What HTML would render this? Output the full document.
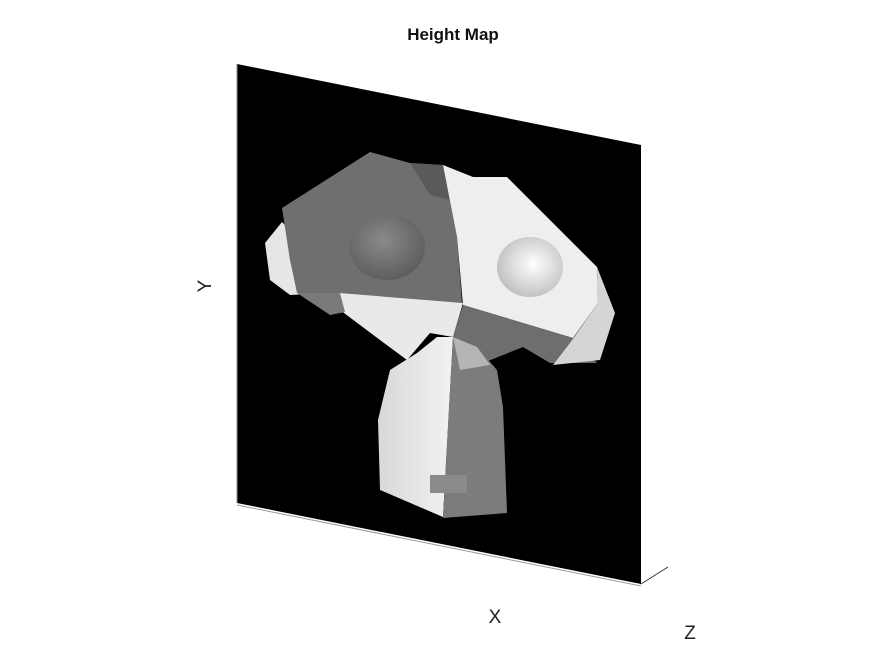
<!DOCTYPE html>
<html><head><meta charset="utf-8"><style>
html,body{margin:0;padding:0;background:#fff;width:875px;height:656px;overflow:hidden}
svg{display:block;font-family:"Liberation Sans",sans-serif}
</style></head><body>
<svg width="875" height="656" viewBox="0 0 875 656">
<defs>
<radialGradient id="eyeL" cx="0.45" cy="0.4" r="0.6"><stop offset="0" stop-color="#8a8a8a"/><stop offset="1" stop-color="#5e5e5e"/></radialGradient>
<radialGradient id="eyeR" cx="0.55" cy="0.45" r="0.6"><stop offset="0" stop-color="#ffffff"/><stop offset="1" stop-color="#bdbdbd"/></radialGradient>
<linearGradient id="bodyL" x1="0" x2="1"><stop offset="0" stop-color="#d8d8d8"/><stop offset="1" stop-color="#f2f2f2"/></linearGradient>
</defs>
<text x="453" y="40" text-anchor="middle" font-size="17" font-weight="bold" fill="#111">Height Map</text>
<polygon points="237,64 641,145 641,584 237,503" fill="#000"/>
<line x1="237" y1="64" x2="237" y2="503" stroke="#888" stroke-width="1"/>
<line x1="237" y1="505" x2="641" y2="586" stroke="#999" stroke-width="1"/>
<line x1="641" y1="584" x2="668" y2="567" stroke="#333" stroke-width="1"/>
<g>
<polygon points="265,243 282,222 300,240 330,293 290,295 270,280" fill="#e6e6e6"/>
<polygon points="282,208 370,152 410,163 443,165 457,237 462,303 340,293 297,293 290,260" fill="#6f6f6f"/>
<polygon points="410,163 443,165 450,200 430,195" fill="#5a5a5a"/>
<polygon points="443,165 473,177 507,177 597,267 598,303 573,338 463,305 457,237" fill="#eeeeee"/>
<polygon points="297,293 340,293 463,303 453,337 430,333 407,360 380,340 340,310" fill="#e9e9e9"/>
<polygon points="297,293 340,293 345,312 330,315" fill="#7a7a7a"/>
<polygon points="463,305 573,338 597,363 550,363 523,347 483,363 453,337" fill="#6e6e6e"/>
<polygon points="597,267 615,313 600,360 553,365 570,343 598,303" fill="#d5d5d5"/>
<ellipse cx="387" cy="247" rx="38" ry="33" fill="url(#eyeL)"/>
<ellipse cx="530" cy="267" rx="33" ry="30" fill="url(#eyeR)"/>
<polygon points="437,337 453,337 443,517 380,490 378,420 390,370 417,353" fill="url(#bodyL)"/>
<polygon points="453,337 477,347 497,370 503,407 507,513 443,518" fill="#7c7c7c"/>
<polygon points="453,337 477,347 490,365 460,370" fill="#b5b5b5"/>
<rect x="430" y="475" width="37" height="18" fill="#8a8a8a"/>
</g>
<text x="495" y="623" text-anchor="middle" font-size="19" fill="#222">X</text>
<text x="0" y="0" transform="translate(211,286) rotate(-90)" text-anchor="middle" font-size="19" fill="#222">Y</text>
<text x="690" y="639" text-anchor="middle" font-size="19" fill="#222">Z</text>
</svg>
</body></html>
